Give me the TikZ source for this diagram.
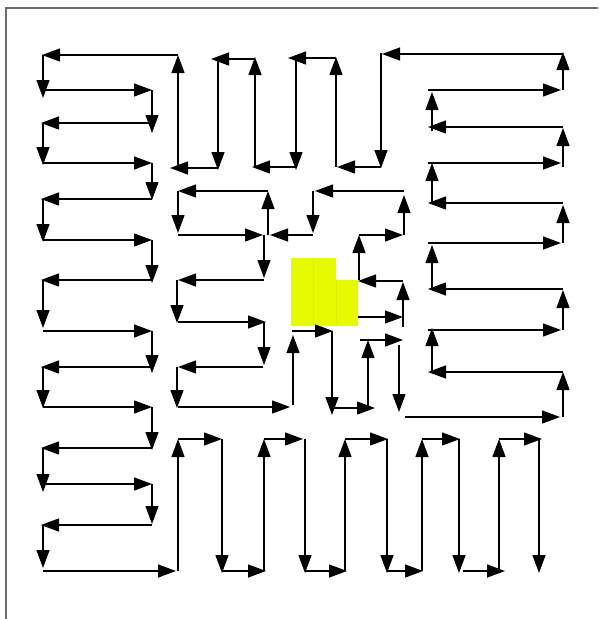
\documentclass[tikz,border=0pt]{standalone}
\usetikzlibrary{arrows.meta}
\definecolor{framegray}{RGB}{110,110,110}
\definecolor{cellyellow}{RGB}{230,250,0}
\tikzset{
  arr/.style={draw=black, line width=1.3pt, -{Triangle[length=18pt,width=13pt]}},
  frameline/.style={draw=framegray, line width=2pt},
}
\begin{document}
\begin{tikzpicture}[x=1pt,y=-1pt]
\useasboundingbox (0,0) rectangle (598,619);
% frame
\coordinate (fbl) at (6,619);
\coordinate (ftl) at (6,8);
\coordinate (ftr) at (598,8);
\draw[frameline] (fbl) -- (ftl) -- (ftr);
% yellow obstacle
\fill[cellyellow] (291,258) -- (336,258) -- (336,280) -- (358,280) -- (358,326) -- (291,326) -- cycle;
\draw[cellyellow!96!black, line width=0.4pt] (313,258) -- (313,326) (336,280) -- (336,326);
% arrows
\foreach \ax/\ay/\bx/\by in {
 178/55/42/55, 43/55/43/98, 43/90/152/90, 152/90/152/133,
 152/123/41/123, 43/123/43/165, 43/163/152/163, 152/163/152/200,
 152/199/41/199, 43/199/43/242, 43/240/152/240, 152/240/152/283,
 152/280/41/280, 43/280/43/328, 43/331/152/331, 152/331/152/373,
 152/367/41/367, 43/367/43/408, 43/407/152/407, 152/407/152/450,
 152/448/41/448, 43/448/43/492, 43/484/152/484, 152/484/152/524,
 152/525/41/525, 43/525/43/568, 43/571/176/571,
 178/571/178/439, 178/439/222/439, 222/439/222/573, 222/571/266/571,
 264/571/264/439, 264/439/303/439, 305/439/305/573, 305/571/347/571,
 345/571/345/439, 345/439/388/439, 387/439/387/573, 387/571/423/571,
 422/571/422/439, 422/439/460/439, 459/439/459/573, 463/571/505/571,
 499/571/499/439, 499/439/542/439, 539/439/539/573,
 563/90/563/52, 563/54/382/54, 428/90/561/90, 432/131/432/92,
 563/127/428/127, 563/167/563/128, 428/163/561/163, 432/202/432/163,
 563/203/428/203, 563/243/563/205, 428/243/561/243, 432/289/432/245,
 563/289/428/289, 563/330/563/290, 428/330/561/330, 432/372/432/328,
 563/372/428/372, 563/417/563/372, 405/417/560/417,
 381/53/381/168, 381/167/337/167, 336/167/336/57, 336/58/288/58,
 296/58/296/170, 296/167/252/167, 255/167/255/57, 255/59/211/59,
 218/59/218/170, 218/168/170/168, 178/168/178/55,
 268/191/178/191, 178/191/178/233, 178/235/263/235, 268/235/268/191,
 313/235/270/235, 313/191/313/233, 404/191/315/191, 404/235/404/195,
 359/235/403/235, 359/280/359/235, 403/281/358/281, 403/327/403/282,
 358/317/403/317,
 264/235/264/278, 264/280/178/280, 177/280/177/323, 178/322/266/322,
 264/322/264/365, 263/367/178/367, 177/367/177/408, 178/407/290/407,
 293/405/293/335, 292/331/333/331, 332/331/332/415, 333/408/375/408,
 368/408/368/340, 360/340/403/340, 399/345/399/412}
 {\draw[arr] (\ax,\ay) -- (\bx,\by);}
\end{tikzpicture}
\end{document}
